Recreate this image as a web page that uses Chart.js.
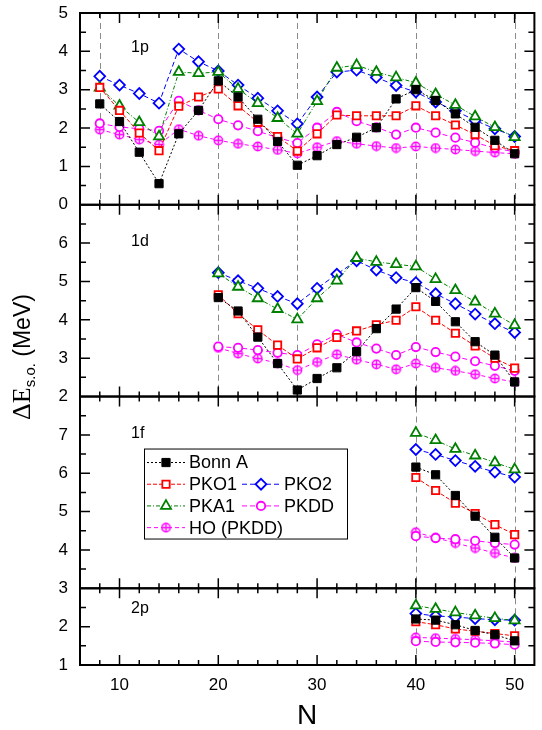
<!DOCTYPE html>
<html>
<head>
<meta charset="utf-8">
<script src="https://cdn.jsdelivr.net/npm/chart.js@4.4.1/dist/chart.umd.min.js"></script>
<style>
  html, body { margin: 0; padding: 0; background: #fff; }
  #wrap { width: 542px; height: 730px; }
</style>
</head>
<body>
<div id="wrap"><canvas id="chart" width="542" height="730"></canvas></div>
<script>
// ─── Data ───
const N_1p = [8, 10, 12, 14, 16, 18, 20, 22, 24, 26, 28, 30, 32, 34, 36, 38, 40, 42, 44, 46, 48, 50];
const bonnA_1p = [2.63, 2.17, 1.37, 0.55, 1.85, 2.46, 3.23, 2.81, 2.23, 1.65, 1.03, 1.28, 1.57, 1.76, 2.01, 2.76, 3.00, 2.72, 2.37, 2.02, 1.68, 1.33];
const pko1_1p  = [3.06, 2.46, 1.87, 1.41, 2.57, 2.81, 3.02, 2.58, 2.15, 1.78, 1.40, 1.85, 2.34, 2.32, 2.32, 2.32, 2.58, 2.32, 2.08, 1.83, 1.54, 1.41];
const pka1_1p  = [3.05, 2.58, 2.15, 1.78, 3.46, 3.43, 3.46, 3.02, 2.65, 2.26, 1.85, 2.70, 3.57, 3.64, 3.46, 3.32, 3.18, 2.88, 2.60, 2.30, 2.02, 1.76];
const pko2_1p  = [3.35, 3.12, 2.90, 2.65, 4.06, 3.73, 3.49, 3.12, 2.78, 2.45, 2.11, 2.81, 3.46, 3.51, 3.32, 3.11, 2.94, 2.68, 2.45, 2.20, 1.98, 1.78];
const pkdd_1p  = [2.12, 2.03, 1.98, 1.93, 2.71, 2.46, 2.23, 2.07, 1.92, 1.75, 1.61, 2.01, 2.42, 2.18, 2.02, 1.83, 2.01, 1.88, 1.75, 1.62, 1.48, 1.38];
const ho_1p    = [1.96, 1.83, 1.70, 1.57, 1.97, 1.80, 1.68, 1.59, 1.52, 1.43, 1.34, 1.50, 1.66, 1.59, 1.53, 1.48, 1.52, 1.48, 1.44, 1.40, 1.36, 1.33];

const N_1d = [20, 22, 24, 26, 28, 30, 32, 34, 36, 38, 40, 42, 44, 46, 48, 50];
const bonnA_1d = [4.58, 4.23, 3.55, 2.86, 2.17, 2.47, 2.75, 3.17, 3.77, 4.28, 4.84, 4.48, 3.95, 3.43, 3.08, 2.38];
const pko1_1d  = [4.65, 4.16, 3.74, 3.34, 2.98, 3.27, 3.54, 3.71, 3.87, 3.99, 4.34, 3.99, 3.65, 3.32, 3.00, 2.74];
const pka1_1d  = [5.21, 4.86, 4.56, 4.28, 4.01, 4.56, 5.02, 5.61, 5.51, 5.45, 5.39, 5.06, 4.77, 4.47, 4.16, 3.86];
const pko2_1d  = [5.23, 5.02, 4.82, 4.61, 4.42, 4.82, 5.19, 5.54, 5.30, 5.10, 4.97, 4.68, 4.42, 4.15, 3.90, 3.67];
const pkdd_1d  = [3.30, 3.27, 3.21, 3.14, 3.08, 3.36, 3.62, 3.41, 3.25, 3.08, 3.29, 3.16, 3.04, 2.92, 2.80, 2.67];
const ho_1d    = [3.27, 3.12, 2.99, 2.87, 2.69, 2.90, 3.10, 2.96, 2.84, 2.71, 2.86, 2.75, 2.67, 2.58, 2.47, 2.38];

const N_hi = [40, 42, 44, 46, 48, 50];
const bonnA_1f = [6.16, 5.96, 5.42, 4.88, 4.33, 3.79];
const pko1_1f  = [5.89, 5.55, 5.22, 4.95, 4.66, 4.40];
const pka1_1f  = [7.05, 6.86, 6.63, 6.46, 6.28, 6.10];
const pko2_1f  = [6.62, 6.49, 6.33, 6.18, 6.03, 5.90];
const pkdd_1f  = [4.36, 4.31, 4.28, 4.24, 4.18, 4.14];
const ho_1f    = [4.46, 4.32, 4.18, 4.05, 3.92, 3.79];

const bonnA_2p = [2.20, 2.17, 2.05, 1.90, 1.79, 1.63];
const pko1_2p  = [2.13, 2.05, 1.94, 1.88, 1.82, 1.76];
const pka1_2p  = [2.55, 2.46, 2.37, 2.29, 2.22, 2.16];
const pko2_2p  = [2.34, 2.28, 2.25, 2.21, 2.18, 2.17];
const pkdd_2p  = [1.62, 1.60, 1.59, 1.58, 1.56, 1.53];
const ho_2p    = [1.72, 1.70, 1.68, 1.66, 1.63, 1.60];

// magic numbers marked by dashed lines
const MAGIC_1p = [8, 20, 28, 40, 50];
const MAGIC_1d = [20, 28, 40, 50];
const MAGIC_hi = [40, 50];

// ─── Markers ───
const FONT = '"Liberation Sans", Arial, sans-serif';
Chart.defaults.font.family = FONT;
Chart.defaults.color = '#000';

// circle with a plus (⊕) for the HO curve
function makeOPlus(color) {
    const c = document.createElement('canvas');
    c.width = 11; c.height = 11;
    const g = c.getContext('2d');
    g.strokeStyle = color;
    g.lineWidth = 1.4;
    g.fillStyle = '#fff';
    g.beginPath(); g.arc(5.5, 5.5, 4.2, 0, Math.PI * 2); g.fill(); g.stroke();
    g.beginPath();
    g.moveTo(1.3, 5.5); g.lineTo(9.7, 5.5);
    g.moveTo(5.5, 1.3); g.lineTo(5.5, 9.7);
    g.stroke();
    return c;
}

// index 0 is drawn on top
const SERIES = [
    { label: 'Bonn A',    color: '#000000', style: 'rect',     radius: 5.8, filled: true,  dash: [2, 2],       row: 0, col: 0 },
    { label: 'PKO1',      color: '#ff0000', style: 'rect',     radius: 5.2, filled: false, dash: [4, 2],       row: 1, col: 0 },
    { label: 'PKA1',      color: '#008000', style: 'triangle', radius: 5.8, filled: false, dash: [4, 2, 1, 2], row: 2, col: 0 },
    { label: 'PKO2',      color: '#0000ff', style: 'rectRot',  radius: 5.4, filled: false, dash: [5, 3],       row: 1, col: 1 },
    { label: 'PKDD',      color: '#ff00ff', style: 'circle',   radius: 4.2, filled: false, dash: [5, 3],       row: 2, col: 1 },
    { label: 'HO (PKDD)', color: '#ff00ff', style: makeOPlus('#ff00ff'), radius: 5, filled: false, dash: [4, 3], row: 3, col: 0 },
];

const PANELS = [
    { id: 'y1p', name: '1p', min: 0, max: 5, showTop: true,  labelDy: 39, n: N_1p, magic: MAGIC_1p,
      vals: [bonnA_1p, pko1_1p, pka1_1p, pko2_1p, pkdd_1p, ho_1p] },
    { id: 'y1d', name: '1d', min: 2, max: 7, showTop: false, labelDy: 41, n: N_1d, magic: MAGIC_1d,
      vals: [bonnA_1d, pko1_1d, pka1_1d, pko2_1d, pkdd_1d, ho_1d] },
    { id: 'y1f', name: '1f', min: 3, max: 8, showTop: false, labelDy: 41, n: N_hi, magic: MAGIC_hi,
      vals: [bonnA_1f, pko1_1f, pka1_1f, pko2_1f, pkdd_1f, ho_1f] },
    { id: 'y2p', name: '2p', min: 1, max: 3, showTop: false, labelDy: 25, n: N_hi, magic: MAGIC_hi,
      vals: [bonnA_2p, pko1_2p, pka1_2p, pko2_2p, pkdd_2p, ho_2p] },
];

// ─── Datasets ───
const datasets = [];
SERIES.forEach((s, si) => {
    PANELS.forEach(p => {
        datasets.push({
            label: s.label,
            yAxisID: p.id,
            data: p.n.map((n, i) => ({ x: n, y: p.vals[si][i] })),
            borderColor: s.color,
            borderWidth: 1,
            borderDash: s.dash,
            pointStyle: s.style,
            pointRadius: s.radius,
            pointBackgroundColor: s.filled ? s.color : '#ffffff',
            pointBorderColor: s.color,
            pointBorderWidth: s.filled ? 1 : 1.8,
            fill: false,
            tension: 0
        });
    });
});

// ─── Scales ───
const scales = {
    x: {
        type: 'linear', min: 6, max: 52,
        grid: { display: false, drawTicks: false },
        border: { display: false },
        ticks: { stepSize: 2, autoSkip: false, maxRotation: 0, padding: 10, font: { size: 17 },
                 callback: v => (v % 10 === 0 ? v : '') },
        title: { display: true, text: 'N', font: { size: 28, lineHeight: 1 }, padding: 0 },
        afterFit: s => { s.height = 65; s.paddingLeft = 0; s.paddingRight = 0; }
    }
};
PANELS.forEach((p, i) => {
    scales[p.id] = {
        type: 'linear', position: 'left',
        stack: 'panels', stackWeight: p.max - p.min, weight: PANELS.length - i,
        min: p.min, max: p.max, offset: false,
        grid: { display: false, drawTicks: false },
        border: { display: false },
        ticks: { stepSize: 0.5, autoSkip: false, padding: 12, font: { size: 17 },
                 callback: v => (Number.isInteger(v) && (p.showTop || v !== p.max) ? v : '') },
        afterFit: s => { s.width = 80; s.paddingTop = 0; s.paddingBottom = 0; }
    };
});

// ─── Frames, inner ticks, magic lines, labels, legend ───
const panelDecor = {
    id: 'panelDecor',
    beforeDatasetsDraw(chart) {
        const ctx = chart.ctx, xs = chart.scales.x;
        ctx.save();
        ctx.strokeStyle = '#8a8a8a';
        ctx.lineWidth = 1;
        ctx.setLineDash([6, 4]);
        PANELS.forEach(p => {
            const ys = chart.scales[p.id];
            p.magic.forEach(n => {
                const x = Math.round(xs.getPixelForValue(n)) + 0.5;
                ctx.beginPath();
                ctx.moveTo(x, ys.top);
                ctx.lineTo(x, ys.bottom);
                ctx.stroke();
            });
        });
        ctx.restore();
    },
    afterDatasetsDraw(chart) {
        const ctx = chart.ctx, xs = chart.scales.x, area = chart.chartArea;
        ctx.save();
        ctx.setLineDash([]);
        ctx.strokeStyle = '#000';
        ctx.fillStyle = '#000';

        PANELS.forEach(p => {
            const ys = chart.scales[p.id];
            ctx.lineWidth = 1.5;
            ctx.beginPath();
            ys.ticks.forEach(t => {
                if (t.value <= p.min || t.value >= p.max) return;
                const y = ys.getPixelForValue(t.value);
                const len = Number.isInteger(t.value) ? 10 : 6;
                ctx.moveTo(area.left, y); ctx.lineTo(area.left + len, y);
                ctx.moveTo(area.right, y); ctx.lineTo(area.right - len, y);
            });
            xs.ticks.forEach(t => {
                if (t.value <= xs.min || t.value >= xs.max) return;
                const x = xs.getPixelForValue(t.value);
                const len = t.value % 10 === 0 ? 10 : 5;
                ctx.moveTo(x, ys.top); ctx.lineTo(x, ys.top + len);
                ctx.moveTo(x, ys.bottom); ctx.lineTo(x, ys.bottom - len);
            });
            ctx.stroke();

            ctx.lineWidth = 2;
            ctx.strokeRect(area.left, ys.top, area.right - area.left, ys.bottom - ys.top);

            ctx.font = '16px ' + FONT;
            ctx.textAlign = 'left';
            ctx.textBaseline = 'alphabetic';
            ctx.fillText(p.name, area.left + 51, ys.top + p.labelDy);
        });

        // legend box inside the 1f panel
        const yf = chart.scales.y1f;
        const bx = area.left + 64, by = yf.top + 52, bw = 203, bh = 90;
        ctx.fillStyle = '#fff';
        ctx.fillRect(bx, by, bw, bh);
        ctx.lineWidth = 1;
        ctx.strokeStyle = '#000';
        ctx.strokeRect(bx + 0.5, by + 0.5, bw, bh);
        const colX = [bx + 3, bx + 98];
        ctx.font = '18px ' + FONT;
        ctx.textBaseline = 'middle';
        SERIES.forEach(s => {
            const x0 = colX[s.col], y = by + 14 + s.row * 21.7;
            ctx.strokeStyle = s.color;
            ctx.lineWidth = 1;
            ctx.setLineDash(s.dash);
            ctx.beginPath(); ctx.moveTo(x0, y); ctx.lineTo(x0 + 38, y); ctx.stroke();
            ctx.setLineDash([]);
            ctx.fillStyle = s.filled ? s.color : '#fff';
            ctx.lineWidth = s.filled ? 1 : 1.8;
            Chart.helpers.drawPoint(ctx, { pointStyle: s.style, radius: s.radius, rotation: 0, borderWidth: ctx.lineWidth }, x0 + 19, y);
            ctx.fillStyle = '#000';
            ctx.fillText(s.label, x0 + 42, y + 1);
        });

        // y axis title: ΔE_s.o. (MeV)
        ctx.save();
        ctx.translate(30, 357);
        ctx.rotate(-Math.PI / 2);
        ctx.fillStyle = '#000';
        ctx.textBaseline = 'alphabetic';
        ctx.textAlign = 'left';
        const f1 = '26px "Liberation Serif", "Times New Roman", serif';
        const f2 = '15px ' + FONT;
        const f3 = '23px ' + FONT;
        ctx.font = f1; const w1 = ctx.measureText('\u0394E').width;
        ctx.font = f2; const w2 = ctx.measureText('s.o.').width;
        ctx.font = f3; const w3 = ctx.measureText(' (MeV)').width;
        const x0 = -(w1 + w2 + w3) / 2;
        ctx.font = f1; ctx.fillText('\u0394E', x0, 0);
        ctx.font = f2; ctx.fillText('s.o.', x0 + w1, 5);
        ctx.font = f3; ctx.fillText(' (MeV)', x0 + w1 + w2, 0);
        ctx.restore();

        ctx.restore();
    }
};

new Chart(document.getElementById('chart'), {
    type: 'line',
    data: { datasets },
    options: {
        responsive: false,
        animation: false,
        devicePixelRatio: 1,
        layout: { padding: { top: 13, right: 2, left: 0, bottom: 0 } },
        scales,
        plugins: {
            legend: { display: false },
            tooltip: { enabled: false }
        }
    },
    plugins: [panelDecor]
});
</script>
</body>
</html>
